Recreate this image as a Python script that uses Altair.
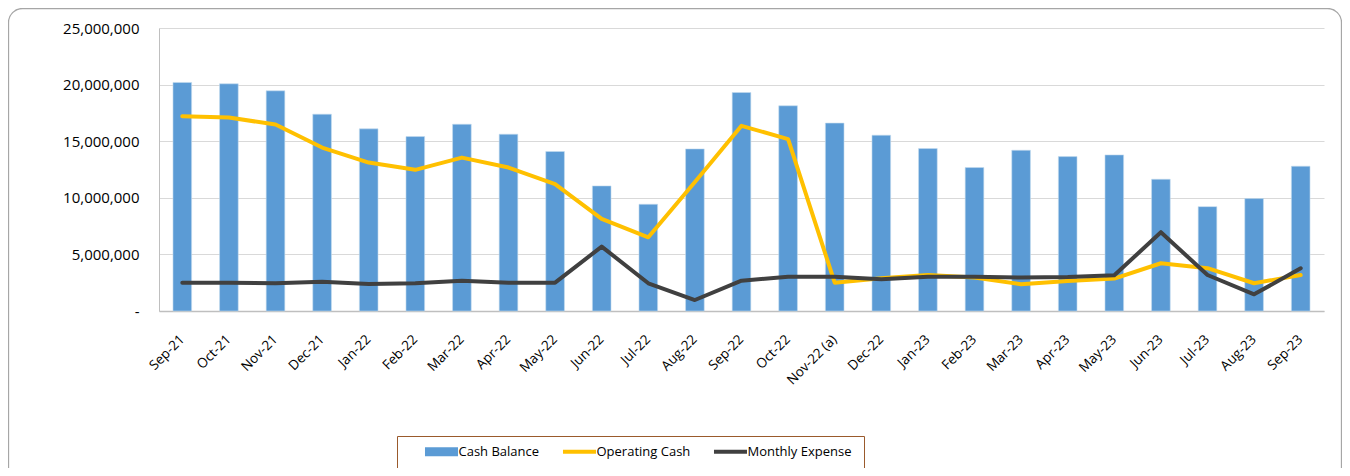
import altair as alt
import pandas as pd

months = ["Sep-21", "Oct-21", "Nov-21", "Dec-21", "Jan-22", "Feb-22", "Mar-22", "Apr-22",
          "May-22", "Jun-22", "Jul-22", "Aug-22", "Sep-22", "Oct-22", "Nov-22 (a)", "Dec-22",
          "Jan-23", "Feb-23", "Mar-23", "Apr-23", "May-23", "Jun-23", "Jul-23", "Aug-23", "Sep-23"]

cash_balance = [20190000, 20070000, 19450000, 17390000, 16090000, 15410000, 16500000, 15620000,
                14090000, 11050000, 9430000, 14320000, 19300000, 18130000, 16600000, 15530000,
                14350000, 12670000, 14200000, 13640000, 13790000, 11640000, 9220000, 9930000, 12790000]

operating_cash = [17210000, 17090000, 16470000, 14440000, 13110000, 12470000, 13550000, 12670000,
                  11200000, 8130000, 6510000, 11400000, 16360000, 15180000, 2500000, 2890000,
                  3180000, 2950000, 2360000, 2650000, 2860000, 4220000, 3780000, 2450000, 3180000]

monthly_expense = [2500000, 2500000, 2450000, 2590000, 2390000, 2450000, 2680000, 2500000,
                   2500000, 5690000, 2450000, 970000, 2680000, 3030000, 3030000, 2800000,
                   3030000, 3030000, 2950000, 3000000, 3150000, 6960000, 3180000, 1470000, 3770000]

series_names = ["Cash Balance", "Operating Cash", "Monthly  Expense"]
series_colors = ["#5b9bd5", "#ffc000", "#404040"]
series_shapes = ["M-3.67,-1H3.67V1H-3.67Z", "M-3.67,-0.45H3.67V0.45H-3.67Z", "M-3.67,-0.45H3.67V0.45H-3.67Z"]
y_ticks = [0, 5000000, 10000000, 15000000, 20000000, 25000000]

bars_df = pd.DataFrame({"month": months, "value": cash_balance, "series": series_names[0]})
op_df = pd.DataFrame({"month": months, "value": operating_cash, "series": series_names[1]})
ex_df = pd.DataFrame({"month": months, "value": monthly_expense, "series": series_names[2]})
key_df = pd.DataFrame({"month": [months[0]] * 3, "value": [0] * 3, "series": series_names})

FONT = "Open Sans"

legend = alt.Legend(
    title=None, orient="none", legendX=238, legendY=408, direction="horizontal",
    strokeColor="#9a5a2c", fillColor="white", padding=9,
    labelFont=FONT, labelFontSize=13, labelColor="#000000", labelOffset=10.5,
    symbolSize=81, symbolOffset=29, columnPadding=4, labelLimit=300,
    symbolOpacity=1, symbolStrokeWidth=0,
)

color_scale = alt.Scale(domain=series_names, range=series_colors)
color_nolegend = alt.Color("series:N", scale=color_scale, legend=None)

x_enc = alt.X("month:N", sort=months, title=None,
              scale=alt.Scale(paddingInner=0.6, paddingOuter=0.3),
              axis=alt.Axis(labelAngle=-45, labelFont=FONT, labelFontSize=13.5, labelColor="#000000",
                            ticks=False, domainColor="#bfbfbf", domainWidth=1.5, labelPadding=26,
                            labelAlign="right", labelBaseline="middle", grid=False))
y_enc = alt.Y("value:Q", title=None,
              scale=alt.Scale(domain=[0, 25000000], nice=False),
              axis=alt.Axis(values=y_ticks, labelExpr="datum.value == 0 ? '-' : format(datum.value, ',')",
                            labelFont=FONT, labelFontSize=15, labelColor="#000000", ticks=False,
                            labelPadding=20, domainColor="#bfbfbf", domainWidth=1,
                            gridColor="#d9d9d9", gridWidth=1.2))

bars = alt.Chart(bars_df).mark_bar(stroke="#c5dbef", strokeWidth=0.6).encode(
    x=x_enc, y=y_enc, color=color_nolegend)
op_line = alt.Chart(op_df).mark_line(strokeWidth=4, strokeJoin="round", strokeCap="round").encode(
    x=alt.X("month:N", sort=months), y="value:Q", color=color_nolegend)
ex_line = alt.Chart(ex_df).mark_line(strokeWidth=4, strokeJoin="round", strokeCap="round").encode(
    x=alt.X("month:N", sort=months), y="value:Q", color=color_nolegend)

key = alt.Chart(key_df).mark_point(filled=True, opacity=0).encode(
    x=alt.X("month:N", sort=months), y="value:Q",
    color=alt.Color("series:N", scale=color_scale, legend=legend),
    shape=alt.Shape("series:N", scale=alt.Scale(domain=series_names, range=series_shapes), legend=legend),
)

frame = alt.Chart(pd.DataFrame({"f": [0]})).mark_rect(
    fill="transparent", stroke="#a6a6a6", strokeWidth=1.3, cornerRadius=14, clip=False
).encode(x=alt.value(-150.5), x2=alt.value(1182.5), y=alt.value(-19.5), y2=alt.value(480))

chart = alt.layer(frame, bars, op_line, ex_line, key).resolve_scale(
    color="independent", shape="independent"
).resolve_legend(color="independent", shape="independent").properties(
    width=1165, height=283,
    autosize=alt.AutoSizeParams(type="none"),
    padding={"left": 151, "top": 20, "right": 18, "bottom": 157},
    background="white",
).configure_view(stroke=None)

chart.save("out.html", embed_options={"renderer": "svg", "actions": False})
